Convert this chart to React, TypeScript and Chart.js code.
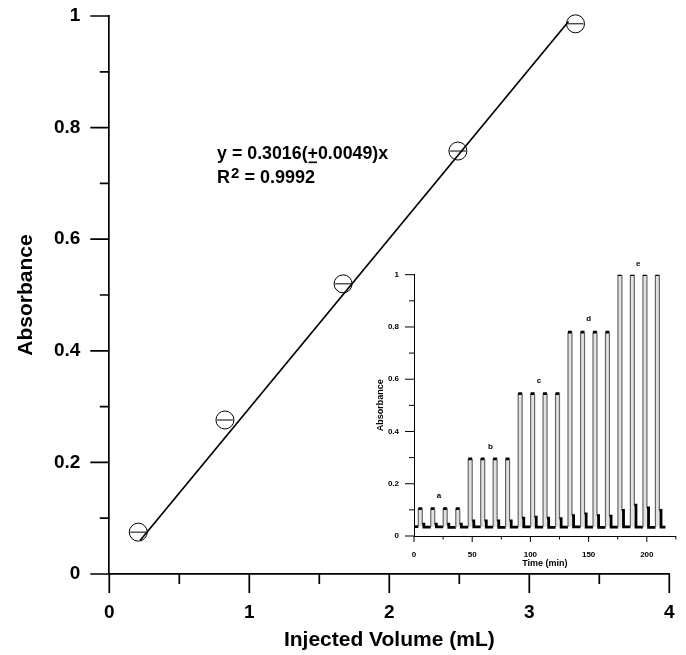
import { useEffect, useRef } from 'react';
import { Chart, registerables } from 'chart.js';

Chart.register(...registerables);

// ---------- Main calibration chart data ----------
const injectedVolumes = [0.207, 0.826, 1.67, 2.49, 3.33];
const absorbances = [0.075, 0.276, 0.52, 0.758, 0.986];
const fitLineX = [0.22, 3.28];
const fitLineY = [0.06, 0.99];

const mainXTickValues = [0, 0.5, 1, 1.5, 2, 2.5, 3, 3.5, 4];
const mainXMajor = [0, 1, 2, 3, 4];
const mainXLabels = ['0', '1', '2', '3', '4'];
const mainYTickValues = [0, 0.1, 0.2, 0.3, 0.4, 0.5, 0.6, 0.7, 0.8, 0.9, 1];
const mainYMajor = [0, 0.2, 0.4, 0.6, 0.8, 1];
const mainYLabels = ['0', '0.2', '0.4', '0.6', '0.8', '1'];

const equationLine1a = 'y = 0.3016(';
const equationPlus = '+';
const equationLine1b = '0.0049)x';
const equationR = 'R';
const equationSup = '2';
const equationLine2 = ' = 0.9992';

// ---------- Inset (flow signal) data ----------
const pulseRise = [3.7, 14.4, 25.1, 35.9, 46.6, 57.3, 68.0, 78.7, 89.5, 100.2, 110.9, 121.6, 132.3, 143.1, 153.8, 164.5, 175.2, 185.9, 196.7, 207.4];
const pulseFall = [7.1, 17.8, 28.5, 39.3, 50.0, 60.7, 71.4, 82.1, 92.9, 103.6, 114.3, 125.0, 135.7, 146.5, 157.2, 167.9, 178.6, 189.3, 200.1, 210.8];
const pulseTop = [0.105, 0.105, 0.105, 0.105, 0.295, 0.295, 0.295, 0.295, 0.545, 0.545, 0.545, 0.545, 0.78, 0.78, 0.78, 0.78, 1.0, 1.0, 1.0, 1.0];
const shoulderLevel = [0.045, 0.045, 0.045, 0.045, 0.058, 0.058, 0.058, 0.058, 0.068, 0.072, 0.068, 0.066, 0.078, 0.085, 0.078, 0.076, 0.098, 0.118, 0.108, 0.098];
const shoulderEnd = [8.5, 19.2, 29.9, 40.7, 51.4, 62.1, 72.8, 83.5, 94.3, 105.0, 115.7, 126.4, 137.1, 147.9, 158.6, 169.3, 180.0, 190.7, 201.5, 212.2];
const baselineLevel = [0.036, 0.034, 0.035, 0.033, 0.034, 0.035, 0.034, 0.033, 0.034, 0.035, 0.034, 0.033, 0.034, 0.035, 0.034, 0.033, 0.034, 0.035, 0.034, 0.033, 0.034];
const traceStartTime = 0;
const traceEndTime = 216;

const groupLetters = ['a', 'b', 'c', 'd', 'e'];
const letterTimes = [21.5, 65.6, 107.4, 150, 192.7];
const letterValues = [0.154, 0.34, 0.594, 0.832, 1.043];

const insetXTickValues = [0, 25, 50, 75, 100, 125, 150, 175, 200, 225];
const insetXMajor = [0, 50, 100, 150, 200];
const insetXLabels = ['0', '50', '100', '150', '200'];
const insetYTickValues = [0, 0.1, 0.2, 0.3, 0.4, 0.5, 0.6, 0.7, 0.8, 0.9, 1];
const insetYMajor = [0, 0.2, 0.4, 0.6, 0.8, 1];
const insetYLabels = ['0', '0.2', '0.4', '0.6', '0.8', '1'];

const FONT = '"Liberation Sans", Arial, Helvetica, sans-serif';

function labelFor(value: number, majors: number[], labels: string[]) {
  const i = majors.findIndex((m) => Math.abs(m - value) < 1e-9);
  return i >= 0 ? labels[i] : '';
}

function isMajor(value: number, majors: number[]) {
  return majors.some((m) => Math.abs(m - value) < 1e-9);
}

function makeTickPlugin(id: string, cfg: {
  xTicks: number[]; xMajor: number[]; yTicks: number[]; yMajor: number[];
  xMajorLen: number; xMinorLen: number; yMajorLen: number; yMinorLen: number; width: number;
}) {
  return {
    id,
    afterDraw(chart: any) {
      const ctx = chart.ctx as CanvasRenderingContext2D;
      const xs = chart.scales.x;
      const ys = chart.scales.y;
      const area = chart.chartArea;
      ctx.save();
      ctx.strokeStyle = '#000';
      ctx.lineWidth = cfg.width;
      ctx.beginPath();
      cfg.xTicks.forEach((v) => {
        const px = xs.getPixelForValue(v);
        const len = isMajor(v, cfg.xMajor) ? cfg.xMajorLen : cfg.xMinorLen;
        ctx.moveTo(px, area.bottom);
        ctx.lineTo(px, area.bottom + len);
      });
      cfg.yTicks.forEach((v) => {
        const py = ys.getPixelForValue(v);
        const len = isMajor(v, cfg.yMajor) ? cfg.yMajorLen : cfg.yMinorLen;
        ctx.moveTo(area.left, py);
        ctx.lineTo(area.left - len, py);
      });
      ctx.stroke();
      ctx.restore();
    },
  };
}

const equationPlugin = {
  id: 'equation',
  afterDraw(chart: any) {
    const ctx = chart.ctx as CanvasRenderingContext2D;
    const xs = chart.scales.x;
    const ys = chart.scales.y;
    const x0 = xs.getPixelForValue(0.77);
    const y1 = ys.getPixelForValue(0.753);
    const y2 = ys.getPixelForValue(0.71);
    ctx.save();
    ctx.fillStyle = '#000';
    ctx.strokeStyle = '#000';
    ctx.textBaseline = 'middle';
    ctx.textAlign = 'left';
    ctx.font = `bold 17.8px ${FONT}`;
    let x = x0;
    ctx.fillText(equationLine1a, x, y1);
    x += ctx.measureText(equationLine1a).width;
    const plusW = ctx.measureText(equationPlus).width;
    ctx.fillText(equationPlus, x, y1);
    ctx.lineWidth = 1.7;
    ctx.beginPath();
    ctx.moveTo(x + 1, y1 + 8.5);
    ctx.lineTo(x + plusW - 1, y1 + 8.5);
    ctx.stroke();
    x += plusW;
    ctx.fillText(equationLine1b, x, y1);

    ctx.font = `bold 18px ${FONT}`;
    x = x0;
    ctx.fillText(equationR, x, y2);
    x += ctx.measureText(equationR).width + 1;
    ctx.font = `bold 15px ${FONT}`;
    ctx.fillText(equationSup, x, y2 - 4);
    x += ctx.measureText(equationSup).width;
    ctx.font = `bold 18px ${FONT}`;
    ctx.fillText(equationLine2, x, y2);
    ctx.restore();
  },
};

const letterPlugin = {
  id: 'letters',
  afterDraw(chart: any) {
    const ctx = chart.ctx as CanvasRenderingContext2D;
    const xs = chart.scales.x;
    const ys = chart.scales.y;
    ctx.save();
    ctx.fillStyle = '#000';
    ctx.font = `bold 8px ${FONT}`;
    ctx.textAlign = 'center';
    ctx.textBaseline = 'middle';
    groupLetters.forEach((l, i) => {
      ctx.fillText(l, xs.getPixelForValue(letterTimes[i]), ys.getPixelForValue(letterValues[i]));
    });
    ctx.restore();
  },
};

function buildTrace() {
  const pts: { x: number; y: number }[] = [{ x: traceStartTime, y: baselineLevel[0] }];
  pulseRise.forEach((r, i) => {
    pts.push(
      { x: r, y: baselineLevel[i] },
      { x: r, y: pulseTop[i] },
      { x: pulseFall[i], y: pulseTop[i] },
      { x: pulseFall[i], y: shoulderLevel[i] },
      { x: shoulderEnd[i], y: shoulderLevel[i] },
      { x: shoulderEnd[i], y: baselineLevel[i + 1] },
    );
  });
  pts.push({ x: traceEndTime, y: baselineLevel[baselineLevel.length - 1] });
  return pts;
}

// segments 1->2 (rising edge) and 3->4 (falling edge) of each pulse block are thin grey
const isEdge = (c: any) => {
  const k = c.p0DataIndex % 6;
  return c.p0DataIndex > 0 && (k === 1 || k === 3);
};

const noPadY = (axis: any) => { axis.paddingTop = 0; axis.paddingBottom = 0; };
const noPadX = (axis: any) => { axis.paddingLeft = 0; axis.paddingRight = 0; };

export default function App() {
  const mainRef = useRef<HTMLCanvasElement>(null);
  const insetRef = useRef<HTMLCanvasElement>(null);

  useEffect(() => {
    const points = injectedVolumes.map((x, i) => ({ x, y: absorbances[i] }));
    const main = new Chart(mainRef.current as HTMLCanvasElement, {
      type: 'scatter',
      data: {
        datasets: [
          {
            type: 'line',
            data: fitLineX.map((x, i) => ({ x, y: fitLineY[i] })),
            borderColor: '#000',
            borderWidth: 1.7,
            pointRadius: 0,
            fill: false,
          } as any,
          {
            data: points,
            pointStyle: 'circle',
            pointRadius: 9,
            borderColor: '#000',
            borderWidth: 1,
            backgroundColor: 'rgba(0,0,0,0)',
            clip: false,
          } as any,
          {
            data: points,
            pointStyle: 'line',
            pointRadius: 8,
            borderColor: '#000',
            borderWidth: 1,
            clip: false,
          } as any,
        ],
      },
      options: {
        animation: false,
        responsive: false,
        devicePixelRatio: 1,
        layout: { padding: { top: 16, right: 16.7, left: 0, bottom: 0 } },
        plugins: { legend: { display: false }, tooltip: { enabled: false } },
        scales: {
          x: {
            type: 'linear',
            min: 0,
            max: 4,
            afterBuildTicks: (axis: any) => { axis.ticks = mainXTickValues.map((value) => ({ value })); },
            afterFit: (axis: any) => { axis.height = 81; noPadX(axis); },
            ticks: {
              autoSkip: false,
              maxRotation: 0,
              padding: 27,
              color: '#000',
              font: { family: FONT, size: 19, weight: 'bold' },
              callback: (v: any) => labelFor(Number(v), mainXMajor, mainXLabels),
            },
            grid: { display: false, drawTicks: false },
            border: { display: true, color: '#000', width: 1.7 },
            title: {
              display: true,
              text: 'Injected Volume (mL)',
              color: '#000',
              font: { family: FONT, size: 21, weight: 'bold' },
              padding: { top: 0, bottom: 2 },
            },
          },
          y: {
            type: 'linear',
            min: 0,
            max: 1,
            afterBuildTicks: (axis: any) => { axis.ticks = mainYTickValues.map((value) => ({ value })); },
            afterFit: (axis: any) => { axis.width = 109.3; noPadY(axis); },
            ticks: {
              autoSkip: false,
              padding: 29,
              color: '#000',
              font: { family: FONT, size: 19, weight: 'bold' },
              callback: (v: any) => labelFor(Number(v), mainYMajor, mainYLabels),
            },
            grid: { display: false, drawTicks: false },
            border: { display: true, color: '#000', width: 1.7 },
            title: {
              display: true,
              text: 'Absorbance',
              color: '#000',
              font: { family: FONT, size: 21, weight: 'bold' },
              padding: { top: 13.4, bottom: 0 },
            },
          },
        },
      } as any,
      plugins: [
        makeTickPlugin('mainTicks', {
          xTicks: mainXTickValues, xMajor: mainXMajor, yTicks: mainYTickValues, yMajor: mainYMajor,
          xMajorLen: 19, xMinorLen: 10, yMajorLen: 19, yMinorLen: 9.5, width: 1.7,
        }),
        equationPlugin,
      ],
    });

    const inset = new Chart(insetRef.current as HTMLCanvasElement, {
      type: 'line',
      data: {
        datasets: [
          {
            data: buildTrace(),
            borderColor: '#000',
            borderWidth: 2.6,
            pointRadius: 0,
            fill: { value: 0.035 },
            backgroundColor: '#e2e2e2',
            segment: {
              borderColor: (c: any) => (isEdge(c) ? '#666666' : '#000'),
              borderWidth: (c: any) => (isEdge(c) ? 1.2 : 2.8),
            },
          } as any,
        ],
      },
      options: {
        animation: false,
        responsive: false,
        devicePixelRatio: 1,
        parsing: false,
        layout: { padding: { top: 24.7, right: 10.1, left: 0, bottom: 0 } },
        plugins: { legend: { display: false }, tooltip: { enabled: false } },
        scales: {
          x: {
            type: 'linear',
            min: 0,
            max: 225,
            afterBuildTicks: (axis: any) => { axis.ticks = insetXTickValues.map((value) => ({ value })); },
            afterFit: (axis: any) => { axis.height = 36; noPadX(axis); },
            ticks: {
              autoSkip: false,
              maxRotation: 0,
              padding: 13.5,
              color: '#000',
              font: { family: FONT, size: 8, weight: 'bold' },
              callback: (v: any) => labelFor(Number(v), insetXMajor, insetXLabels),
            },
            grid: { display: false, drawTicks: false },
            border: { display: true, color: '#000', width: 1 },
            title: {
              display: true,
              text: 'Time (min)',
              color: '#000',
              font: { family: FONT, size: 9, weight: 'bold' },
              padding: { top: 0, bottom: 3 },
            },
          },
          y: {
            type: 'linear',
            min: 0,
            max: 1,
            afterBuildTicks: (axis: any) => { axis.ticks = insetYTickValues.map((value) => ({ value })); },
            afterFit: (axis: any) => { axis.width = 54; noPadY(axis); },
            ticks: {
              autoSkip: false,
              padding: 15,
              color: '#000',
              font: { family: FONT, size: 8, weight: 'bold' },
              callback: (v: any) => labelFor(Number(v), insetYMajor, insetYLabels),
            },
            grid: { display: false, drawTicks: false },
            border: { display: true, color: '#000', width: 1 },
            title: {
              display: true,
              text: 'Absorbance',
              color: '#000',
              font: { family: FONT, size: 9, weight: 'bold' },
              padding: { top: 15.3, bottom: 0 },
            },
          },
        },
      } as any,
      plugins: [
        makeTickPlugin('insetTicks', {
          xTicks: insetXTickValues, xMajor: insetXMajor, yTicks: insetYTickValues, yMajor: insetYMajor,
          xMajorLen: 6, xMinorLen: 3.5, yMajorLen: 9, yMinorLen: 5, width: 1,
        }),
        letterPlugin,
      ],
    });

    return () => {
      main.destroy();
      inset.destroy();
    };
  }, []);

  return (
    <div style={{ position: 'fixed', left: 0, top: 0, width: 686, height: 655, background: '#fff' }}>
      <canvas ref={mainRef} width={686} height={655} style={{ position: 'absolute', left: 0, top: 0, width: 686, height: 655 }} />
      <canvas ref={insetRef} width={326} height={322} style={{ position: 'absolute', left: 360, top: 250, width: 326, height: 322 }} />
    </div>
  );
}
